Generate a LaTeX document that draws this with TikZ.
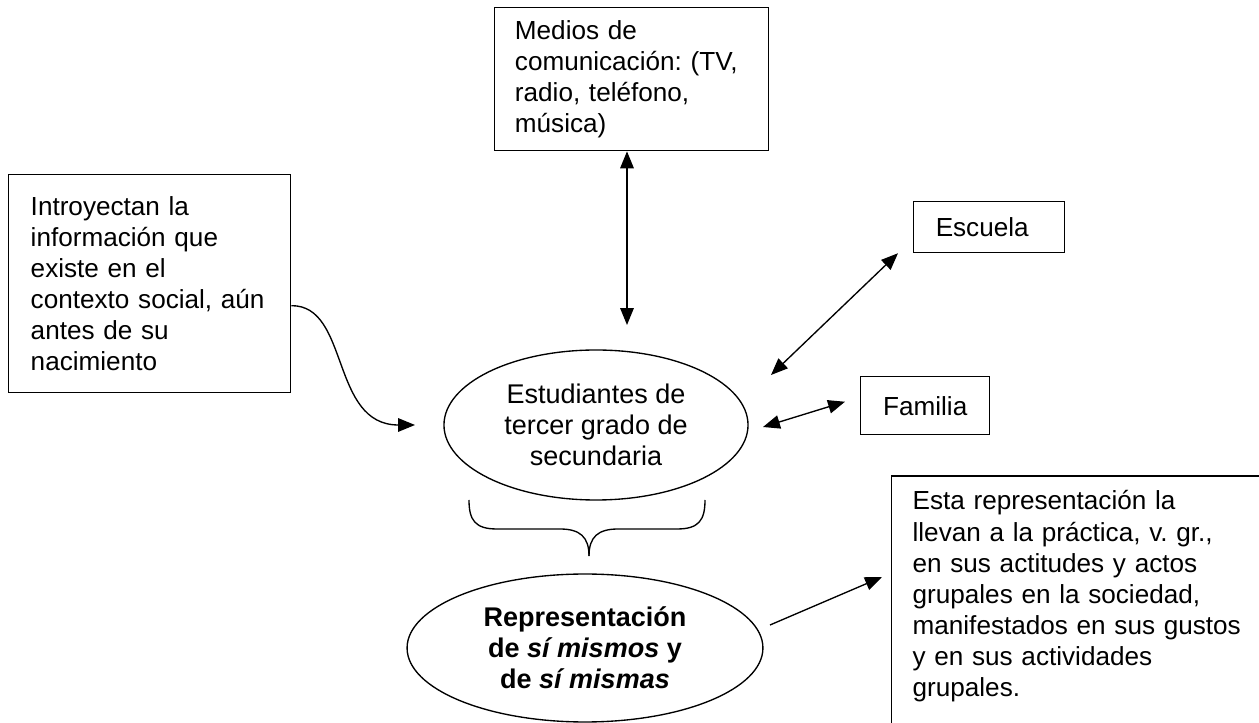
\documentclass[tikz,border=0pt]{standalone}
\usepackage{fontspec}
\setmainfont{Liberation Sans}
\frenchspacing
\usetikzlibrary{arrows.meta,shapes.geometric}

\begin{document}
\begin{tikzpicture}[x=0.444pt,y=-0.444pt,
	font=\fontsize{12}{13.8}\selectfont,
	caja/.style={draw,line width=0.6pt,rectangle,align=left,anchor=north west,inner ysep=0pt,font=\fontsize{11.6}{13.8}\selectfont},
	elipse/.style={draw,line width=0.6pt,ellipse,inner sep=0pt,align=center},
	flecha/.style={line width=0.6pt,-{Triangle[length=7.5pt,width=6pt]}},
	doble/.style={line width=0.6pt,{Triangle[length=7.5pt,width=6pt]}-{Triangle[length=7.5pt,width=6pt]}}]
	\fill[white] (0,0) rectangle (1259,723);
	\useasboundingbox (0,0) rectangle (1259,723);
	
	\node[caja,text width=103.7pt,inner xsep=9pt,minimum height=63.5pt] (medios) at (494,7) {Medios de\\comunicación: (TV,\\radio, teléfono,\\música)};
	\node[caja,text width=105.6pt,inner xsep=9.8pt,minimum height=96.8pt] (intro) at (8,174) {Introyectan la\\información que\\existe en el\\contexto social, aún\\antes de su\\nacimiento};
	\node[caja,text width=47.4pt,inner xsep=9.8pt,minimum height=22.6pt] (escuela) at (913,201) {Escuela};
	\node[caja,align=center,inner xsep=4pt,minimum width=57.3pt,minimum height=25.8pt] (familia) at (860,376) {Familia};
	\node[caja,anchor=base west,text width=160pt,inner xsep=9.3pt,inner ysep=4pt,text height=11.1pt,text depth=120pt] (practica) at (891,510) {Esta representación la\\llevan a la práctica, v. gr.,\\en sus actitudes y actos\\grupales en la sociedad,\\manifestados en sus gustos\\y en sus actividades\\grupales.};
	
	\node[elipse,minimum width=135pt,minimum height=66.6pt] (est) at (596,425) {Estudiantes de\\tercer grado de\\secundaria};
	\node[elipse,font=\fontsize{12}{13.8}\selectfont\bfseries,minimum width=158pt,minimum height=65.7pt] (rep) at (585,648) {Representación\\de \textit{sí mismos} y\\de \textit{sí mismas}};
	
	\coordinate (mediosfin) at (627,325);
	\coordinate (escuelafin) at (771,375);
	\coordinate (familiafin) at (763,427);
	\coordinate (introfin) at (415,425);
	\coordinate (repini) at (770,625);
	\coordinate (practicafin) at (882,577);
	
	\draw[doble] (medios.south -| mediosfin) -- (mediosfin);
	\draw[doble] (escuelafin) -- ([shift={(-15,0)}]escuela.south west);
	\draw[doble] (familiafin) -- ([shift={(-15,-4)}]familia.west);
	\draw[flecha] ([shift={(0,22)}]intro.east) .. controls (350,305) and (330,425) .. (introfin);
	\draw[flecha] (repini) -- (practicafin);
	
	\draw[line width=0.6pt] (469,500) .. controls (469,520) and (475,529) .. (497,529) -- (560,529) .. controls (580,529) and (589,537) .. (589,556);
	\draw[line width=0.6pt] (589,556) .. controls (589,537) and (598,529) .. (618,529) -- (677,529) .. controls (699,529) and (705,520) .. (705,500);
\end{tikzpicture}
\end{document}
